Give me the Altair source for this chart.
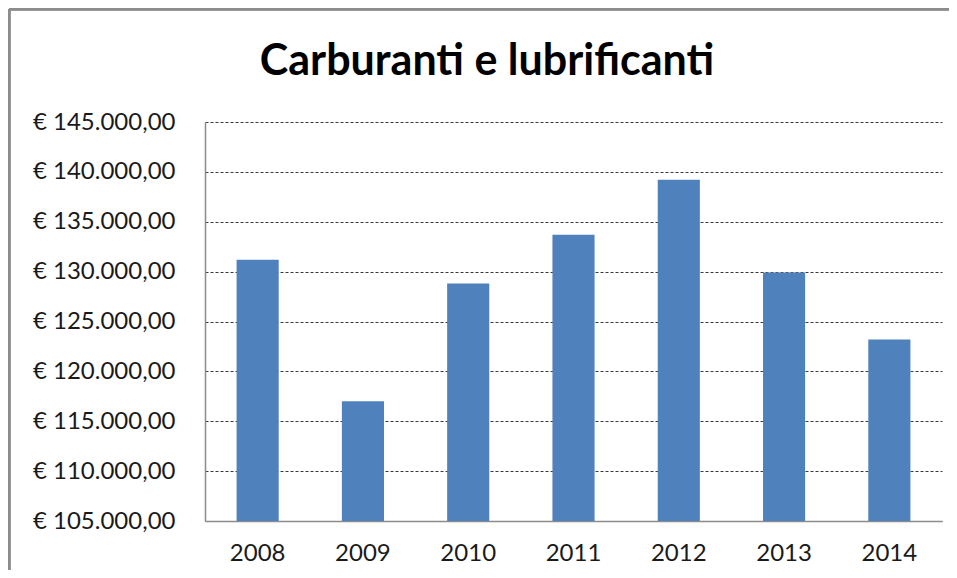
import altair as alt
import pandas as pd

title_text = "Carburanti e lubrificanti"
years = ["2008", "2009", "2010", "2011", "2012", "2013", "2014"]
values = [131200, 117000, 128800, 133700, 139200, 129900, 123200]
y_ticks = [105000, 110000, 115000, 120000, 125000, 130000, 135000, 140000, 145000]

df = pd.DataFrame({"anno": years, "valore": values})

W, H = 737, 399
PAD = {"left": 197, "top": 114, "right": 7, "bottom": 49}
FONT = "Lato"

bars = alt.Chart(df).mark_bar(color="#4F81BD", clip=True).encode(
    x=alt.X("anno:N", sort=years,
            scale=alt.Scale(paddingInner=0.6, paddingOuter=0.3),
            axis=alt.Axis(title=None, labelAngle=0, ticks=False, labelPadding=20,
                          labelFontSize=24, labelFont=FONT, labelColor="#1a1a1a",
                          domainColor="#8c8c8c", domainWidth=1.5, grid=False)),
    y=alt.Y("valore:Q",
            scale=alt.Scale(domain=[105000, 145000], nice=False, zero=False),
            axis=alt.Axis(title=None, values=y_ticks, format="$,.2f", ticks=False,
                          labelPadding=30, labelFontSize=24, labelFont=FONT,
                          labelColor="#1a1a1a", domainColor="#8c8c8c", domainWidth=1.5,
                          grid=True, gridColor="#3a3a3a", gridDash=[3, 2], gridWidth=1)),
)

frame_left = alt.Chart(df).mark_rule(color="#8c8c8c", strokeWidth=2.5).encode(
    x=alt.value(-PAD["left"] + 1), y=alt.value(-PAD["top"] + 1), y2=alt.value(H + PAD["bottom"] + 10)
)
frame_top = alt.Chart(df).mark_rule(color="#8c8c8c", strokeWidth=2.5).encode(
    y=alt.value(-PAD["top"] + 1), x=alt.value(-PAD["left"] + 1), x2=alt.value(W + PAD["right"] + 10)
)

title = alt.Chart(df.head(1)).mark_text(
    font=FONT, fontSize=43, fontWeight="bold", color="#000000",
    align="center", baseline="alphabetic"
).encode(
    text=alt.value(title_text), x=alt.value(282), y=alt.value(-47)
)

chart = alt.layer(frame_left, frame_top, bars, title).properties(
    width=W, height=H,
    padding=PAD,
    autosize=alt.AutoSizeParams(type="none"),
).configure(
    locale={"number": {"decimal": ",", "thousands": ".", "grouping": [3],
                       "currency": ["€ ", ""]}}
).configure_view(stroke=None)

chart.save("out.html", embed_options={"renderer": "svg", "actions": False})
